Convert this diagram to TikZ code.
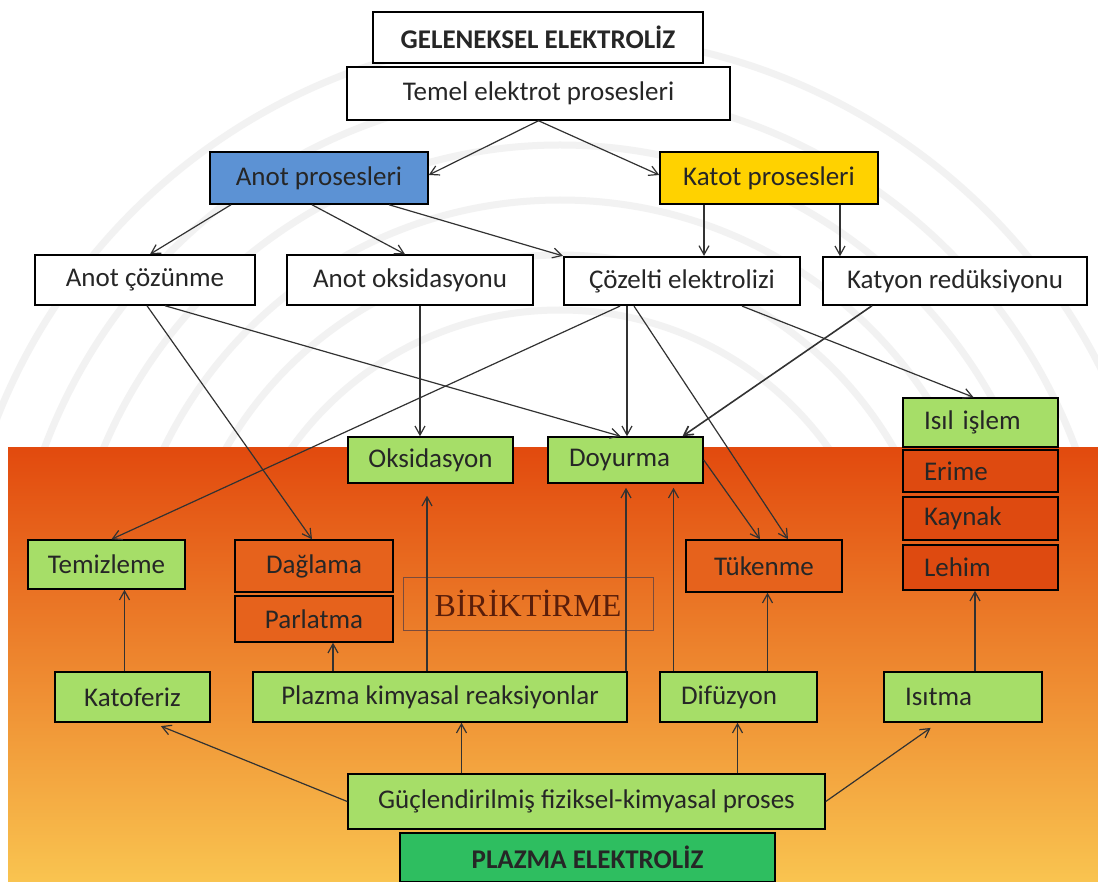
\documentclass[tikz,border=0pt]{standalone}
\usepackage{fontspec}
\setmainfont{Carlito}
\newfontfamily\serifbox{Liberation Serif}
\usetikzlibrary{arrows.meta,positioning,calc}
\definecolor{boxGreen}{RGB}{166,222,104}
\definecolor{boxOrange}{RGB}{230,98,28}
\definecolor{boxRed}{RGB}{222,74,16}
\definecolor{anodeBlue}{RGB}{92,146,212}
\definecolor{cathodeYellow}{RGB}{255,210,0}
\definecolor{plasmaGreen}{RGB}{46,190,96}
\definecolor{lineGray}{RGB}{50,50,50}
\definecolor{brickBrown}{RGB}{90,30,10}
\definecolor{bgTop}{RGB}{226,74,14}
\definecolor{bgMid}{RGB}{240,124,34}
\definecolor{bgBottom}{RGB}{249,196,80}

\tikzset{
  box/.style={rectangle, draw=black, line width=1.5pt, inner sep=0pt, text=black!85, font=\fontsize{27}{30}\selectfont},
  whitebox/.style={box, fill=white},
  greenbox/.style={box, fill=boxGreen},
  orangebox/.style={box, fill=boxOrange},
  leftbox/.style={align=left, text width=#1, inner xsep=21pt},
  link/.style={-{Straight Barb[length=9pt,width=10pt]}, draw=lineGray, line width=1.2pt},
}

\begin{document}
\begin{tikzpicture}[x=1pt, y=-1pt]
    % background
    \useasboundingbox (0,0) rectangle (1098,882);
    \fill[white] (0,0) rectangle (1098,882);
    \begin{scope}
      \clip (0,0) rectangle (1098,448);
      \foreach \r in {330,385,440,495,550,605}
        \draw[gray!10, line width=7pt] (560,640) circle (\r);
    \end{scope}
    \shade[top color=bgTop, middle color=bgMid, bottom color=bgBottom] (8,448) rectangle (1098,882);

    % traditional electrolysis
    \node [whitebox, minimum width=330pt, minimum height=51pt, font=\fontsize{27}{30}\selectfont\bfseries] (gel) at (538,37.5) {GELENEKSEL ELEKTROL\.IZ};
    \node [whitebox, minimum width=383pt, minimum height=53pt] (temel) at (538.5,93.5) {Temel elektrot prosesleri};
    \node [box, fill=anodeBlue, minimum width=218pt, minimum height=52pt] (anot) at (319,178) {Anot prosesleri};
    \node [box, fill=cathodeYellow, minimum width=218pt, minimum height=52pt] (katot) at (769,178) {Katot prosesleri};
    \node [whitebox, minimum width=220pt, minimum height=50pt] (cozunme) at (145,280) {Anot çözünme};
    \node [whitebox, minimum width=246pt, minimum height=50pt] (oksid) at (410,280) {Anot oksidasyonu};
    \node [whitebox, line width=2.2pt, minimum width=236pt, minimum height=48pt] (cozelti) at (682,281) {Çözelti elektrolizi};
    \node [whitebox, minimum width=264pt, minimum height=48pt] (katyon) at (955,281) {Katyon redüksiyonu};

    % results
    \node [greenbox, leftbox=113pt, minimum height=49pt] (isil) at (980.5,422.5) {Isıl işlem};
    \node [box, fill=boxRed, leftbox=113pt, minimum height=42pt] (erime) at (980.5,471) {Erime};
    \node [box, fill=boxRed, leftbox=113pt, minimum height=43pt] (kaynak) at (980.5,518.5) {Kaynak};
    \node [box, fill=boxRed, leftbox=113pt, minimum height=45pt] (lehim) at (980.5,567.5) {Lehim};
    \node [greenbox, minimum width=165pt, minimum height=46pt] (oksidasyon) at (430.5,460) {Oksidasyon};
    \node [greenbox, leftbox=113pt, minimum height=46pt] (doyurma) at (625.5,460) {Doyurma};
    \node [greenbox, minimum width=157pt, minimum height=49pt] (temizleme) at (106.5,564.5) {Temizleme};
    \node [orangebox, minimum width=158pt, minimum height=52pt] (daglama) at (314,566) {Dağlama};
    \node [orangebox, minimum width=158pt, minimum height=46pt] (parlatma) at (314,619) {Parlatma};
    \node [rectangle, draw=brickBrown!80, line width=0.8pt, minimum width=250pt, minimum height=53pt, text=brickBrown, font=\serifbox\fontsize{32}{34}\selectfont] (birik) at (528,603.5) {B\.IR\.IKT\.IRME};
    \node [orangebox, minimum width=156pt, minimum height=52pt] (tukenme) at (764,566) {Tükenme};

    % plasma electrolysis
    \node [greenbox, minimum width=155pt, minimum height=50pt] (katoferiz) at (132.5,697) {Katoferiz};
    \node [greenbox, minimum width=374pt, minimum height=50pt] (plazmak) at (440,697) {Plazma kimyasal reaksiyonlar};
    \node [greenbox, leftbox=115pt, minimum height=50pt] (difuzyon) at (738.5,697) {Difüzyon};
    \node [greenbox, leftbox=116pt, minimum height=50pt] (isitma) at (963,697) {Isıtma};
    \node [greenbox, minimum width=477pt, minimum height=55pt] (guc) at (586.5,801.5) {Güçlendirilmiş fiziksel-kimyasal proses};
    \node [box, fill=plasmaGreen, minimum width=375pt, minimum height=49pt, font=\fontsize{27}{30}\selectfont\bfseries] (plazmael) at (587.5,857.5) {PLAZMA ELEKTROL\.IZ};

    % top half
    \draw [link] (temel.south) -- ([yshift=3pt]anot.east);
    \draw [link] (temel.south) -- ([yshift=3pt]katot.west);
    \draw [link] ([xshift=-88pt]anot.south) -- ([xshift=5pt]cozunme.north);
    \draw [link] ([xshift=-7pt]anot.south) -- ([xshift=-5pt]oksid.north);
    \draw [link] ([xshift=70pt]anot.south) -- (cozelti.north west);
    \draw [link] ([xshift=-65pt]katot.south) -- ([xshift=-65pt]katot.south |- cozelti.north);
    \draw [link] ([xshift=71pt]katot.south) -- ([xshift=71pt]katot.south |- katyon.north);
    \draw [link] ([xshift=2pt]cozunme.south) -- ([xshift=-2pt]daglama.north);
    \draw [link] ([xshift=20pt]cozunme.south) -- ([xshift=-5pt]doyurma.north);
    \draw [link] ([xshift=10pt]oksid.south) -- ([xshift=10pt]oksid.south |- oksidasyon.north);
    \draw [link] ([xshift=-62pt]cozelti.south) -- ([xshift=5pt]temizleme.north);
    \draw [link] ([xshift=-55pt]cozelti.south) -- ([xshift=-55pt]cozelti.south |- doyurma.north);
    \draw [link] ([xshift=-48pt]cozelti.south) -- ([xshift=24pt]tukenme.north);
    \draw [link] ([xshift=60pt]cozelti.south) -- ([xshift=-7pt]isil.north);
    \draw [link, line width=1.6pt] ([xshift=-83pt]katyon.south) -- ([xshift=57pt]doyurma.north);
    \draw [link] (doyurma.east) -- ([xshift=-4pt]tukenme.north);

    % bottom half
    \draw [link] ([xshift=-8pt]katoferiz.north) -- ([xshift=-8pt]katoferiz.north |- temizleme.south);
    \draw [link] ([xshift=-107pt]plazmak.north) -- ([xshift=-107pt]plazmak.north |- parlatma.south);
    \draw [link, shorten >=12pt] ([xshift=-13pt]plazmak.north) -- ([xshift=-13pt]plazmak.north |- oksidasyon.south);
    \draw [link, shorten >=4pt] ([xshift=186pt]plazmak.north) -- ([xshift=186pt]plazmak.north |- doyurma.south);
    \draw [link, shorten >=4pt] ([xshift=-65pt]difuzyon.north) -- ([xshift=-65pt]difuzyon.north |- doyurma.south);
    \draw [link] ([xshift=29pt]difuzyon.north) -- ([xshift=29pt]difuzyon.north |- tukenme.south);
    \draw [link] ([xshift=12pt]isitma.north) -- ([xshift=12pt]isitma.north |- lehim.south);
    \draw [link, shorten >=9pt] (guc.west) -- ([xshift=20pt]katoferiz.south);
    \draw [link] ([xshift=-125pt]guc.north) -- ([xshift=-125pt]guc.north |- plazmak.south);
    \draw [link] ([xshift=151pt]guc.north) -- ([xshift=151pt]guc.north |- difuzyon.south);
    \draw [link, shorten >=9pt] (guc.east) -- ([xshift=-25pt]isitma.south);
\end{tikzpicture}
\end{document}
